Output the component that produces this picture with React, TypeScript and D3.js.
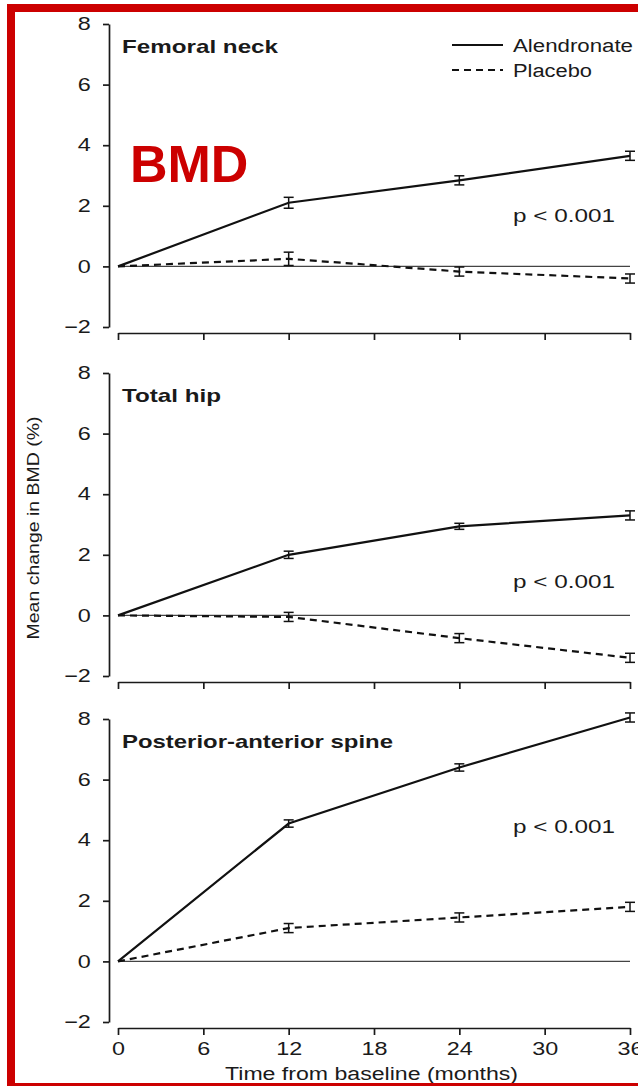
import React, { useRef, useEffect } from "react";
import * as d3 from "d3";

const months = [0, 12, 24, 36];
const xTicks = [0, 6, 12, 18, 24, 30, 36];
const yTicks = [-2, 0, 2, 4, 6, 8];

const panelTitles = ["Femoral neck", "Total hip", "Posterior-anterior spine"];
const pValues = ["p < 0.001", "p < 0.001", "p < 0.001"];
const seriesNames = ["Alendronate", "Placebo"];

// mean change in BMD (%) per panel
const alendronate = [
  [0, 2.1, 2.84, 3.65],
  [0, 2.0, 2.94, 3.3],
  [0, 4.55, 6.4, 8.05],
];
const alendronateErr = [
  [0, 0.18, 0.15, 0.15],
  [0, 0.12, 0.1, 0.15],
  [0, 0.12, 0.12, 0.15],
];
const placebo = [
  [0, 0.25, -0.17, -0.4],
  [0, -0.05, -0.75, -1.4],
  [0, 1.1, 1.45, 1.8],
];
const placeboErr = [
  [0, 0.22, 0.15, 0.15],
  [0, 0.15, 0.15, 0.15],
  [0, 0.15, 0.15, 0.15],
];

const W = 638;
const H = 1086;
const font = "'Liberation Sans', Arial, sans-serif";
const ink = "#1a1a1a";
// scanned original is stretched sideways a bit
const sx = 1.3;

// text stretched to a fixed width
const addText = (parent, x, y, str, size, width, weight = "normal") =>
  parent
    .append("text")
    .attr("x", x)
    .attr("y", y)
    .attr("font-family", font)
    .attr("font-size", size)
    .attr("font-weight", weight)
    .attr("fill", ink)
    .attr("textLength", width)
    .attr("lengthAdjust", "spacingAndGlyphs")
    .text(str);

const App = () => {
  const ref = useRef(null);

  useEffect(() => {
    const svg = d3.select(ref.current);
    svg.selectAll("*").remove();

    const x = d3.scaleLinear().domain([0, 36]).range([118, 630]);
    const tops = [24, 373, 719];
    const ph = 303;
    const titleW = [156, 99, 271];
    const pY = [222, 588, 833];

    tops.forEach((top, i) => {
      const y = d3.scaleLinear().domain([-2, 8]).range([top + ph, top]);
      const g = svg.append("g");

      // y axis
      const ya = g
        .append("g")
        .attr("transform", "translate(109,0)")
        .call(d3.axisLeft(y).tickValues(yTicks).tickSize(6).tickSizeOuter(0));
      ya.selectAll("text")
        .attr("font-size", 18)
        .attr("font-family", font)
        .attr("fill", ink)
        .attr("x", -14)
        .attr("transform", `scale(${sx},1)`);
      ya.selectAll("path,line").attr("stroke", ink).attr("stroke-width", 1.7);

      // x axis
      const xa = g
        .append("g")
        .attr("transform", `translate(0,${top + ph + 6})`)
        .call(
          d3
            .axisBottom(x)
            .tickValues(xTicks)
            .tickSize(7)
            .tickSizeOuter(0)
            .tickPadding(7)
            .tickFormat((d) => (i === 2 ? String(d) : ""))
        );
      xa.selectAll("text")
        .attr("font-size", 18)
        .attr("font-family", font)
        .attr("fill", ink)
        .attr("transform", `scale(${sx},1)`);
      xa.selectAll("path,line").attr("stroke", ink).attr("stroke-width", 1.7);

      // zero reference line
      g.append("line")
        .attr("x1", x(0))
        .attr("x2", x(36))
        .attr("y1", y(0))
        .attr("y2", y(0))
        .attr("stroke", "#444")
        .attr("stroke-width", 1.4);

      const line = d3
        .line()
        .x((d) => x(d[0]))
        .y((d) => y(d[1]));

      const series = [
        { vals: placebo[i], err: placeboErr[i], dash: "7,5" },
        { vals: alendronate[i], err: alendronateErr[i], dash: null },
      ];
      series.forEach((s) => {
        g.append("path")
          .datum(months.map((m, k) => [m, s.vals[k]]))
          .attr("d", line)
          .attr("fill", "none")
          .attr("stroke", "#111")
          .attr("stroke-width", 2.2)
          .attr("stroke-dasharray", s.dash);

        months.forEach((m, k) => {
          if (k === 0) return;
          const cx = x(m);
          const lo = y(s.vals[k] - s.err[k]);
          const hi = y(s.vals[k] + s.err[k]);
          const eb = g.append("g").attr("stroke", "#111").attr("stroke-width", 1.5);
          eb.append("line").attr("x1", cx).attr("x2", cx).attr("y1", lo).attr("y2", hi);
          eb.append("line").attr("x1", cx - 5).attr("x2", cx + 5).attr("y1", lo).attr("y2", lo);
          eb.append("line").attr("x1", cx - 5).attr("x2", cx + 5).attr("y1", hi).attr("y2", hi);
        });
      });

      addText(g, 122, top + 29, panelTitles[i], 19, titleW[i], "bold");
      addText(g, 513, pY[i], pValues[i], 18, 102);
    });

    // legend
    const lg = svg.append("g");
    lg.append("line").attr("x1", 452).attr("x2", 503).attr("y1", 45).attr("y2", 45)
      .attr("stroke", "#111").attr("stroke-width", 2.2);
    addText(lg, 513, 52, seriesNames[0], 18, 120);
    lg.append("line").attr("x1", 452).attr("x2", 503).attr("y1", 70).attr("y2", 70)
      .attr("stroke", "#111").attr("stroke-width", 2.2).attr("stroke-dasharray", "7,5");
    addText(lg, 513, 77, seriesNames[1], 18, 79);

    // axis titles
    addText(svg, 0, 0, "Mean change in BMD (%)", 17, 223)
      .attr("text-anchor", "middle")
      .attr("transform", "translate(39,528) rotate(-90)");
    addText(svg, 225, 1080, "Time from baseline (months)", 18, 293);

    // BMD overlay
    svg.append("text")
      .attr("x", 130)
      .attr("y", 182)
      .attr("font-family", font)
      .attr("font-weight", "bold")
      .attr("font-size", 52)
      .attr("fill", "#cc0000")
      .text("BMD");

    // red frame
    svg.append("rect")
      .attr("x", 11)
      .attr("y", 8)
      .attr("width", 700)
      .attr("height", 1079)
      .attr("fill", "none")
      .attr("stroke", "#cc0000")
      .attr("stroke-width", 8);
  }, []);

  return (
    <svg
      ref={ref}
      width={W}
      height={H}
      style={{ position: "absolute", left: 0, top: 0, background: "#fff", display: "block" }}
    />
  );
};

export default App;
